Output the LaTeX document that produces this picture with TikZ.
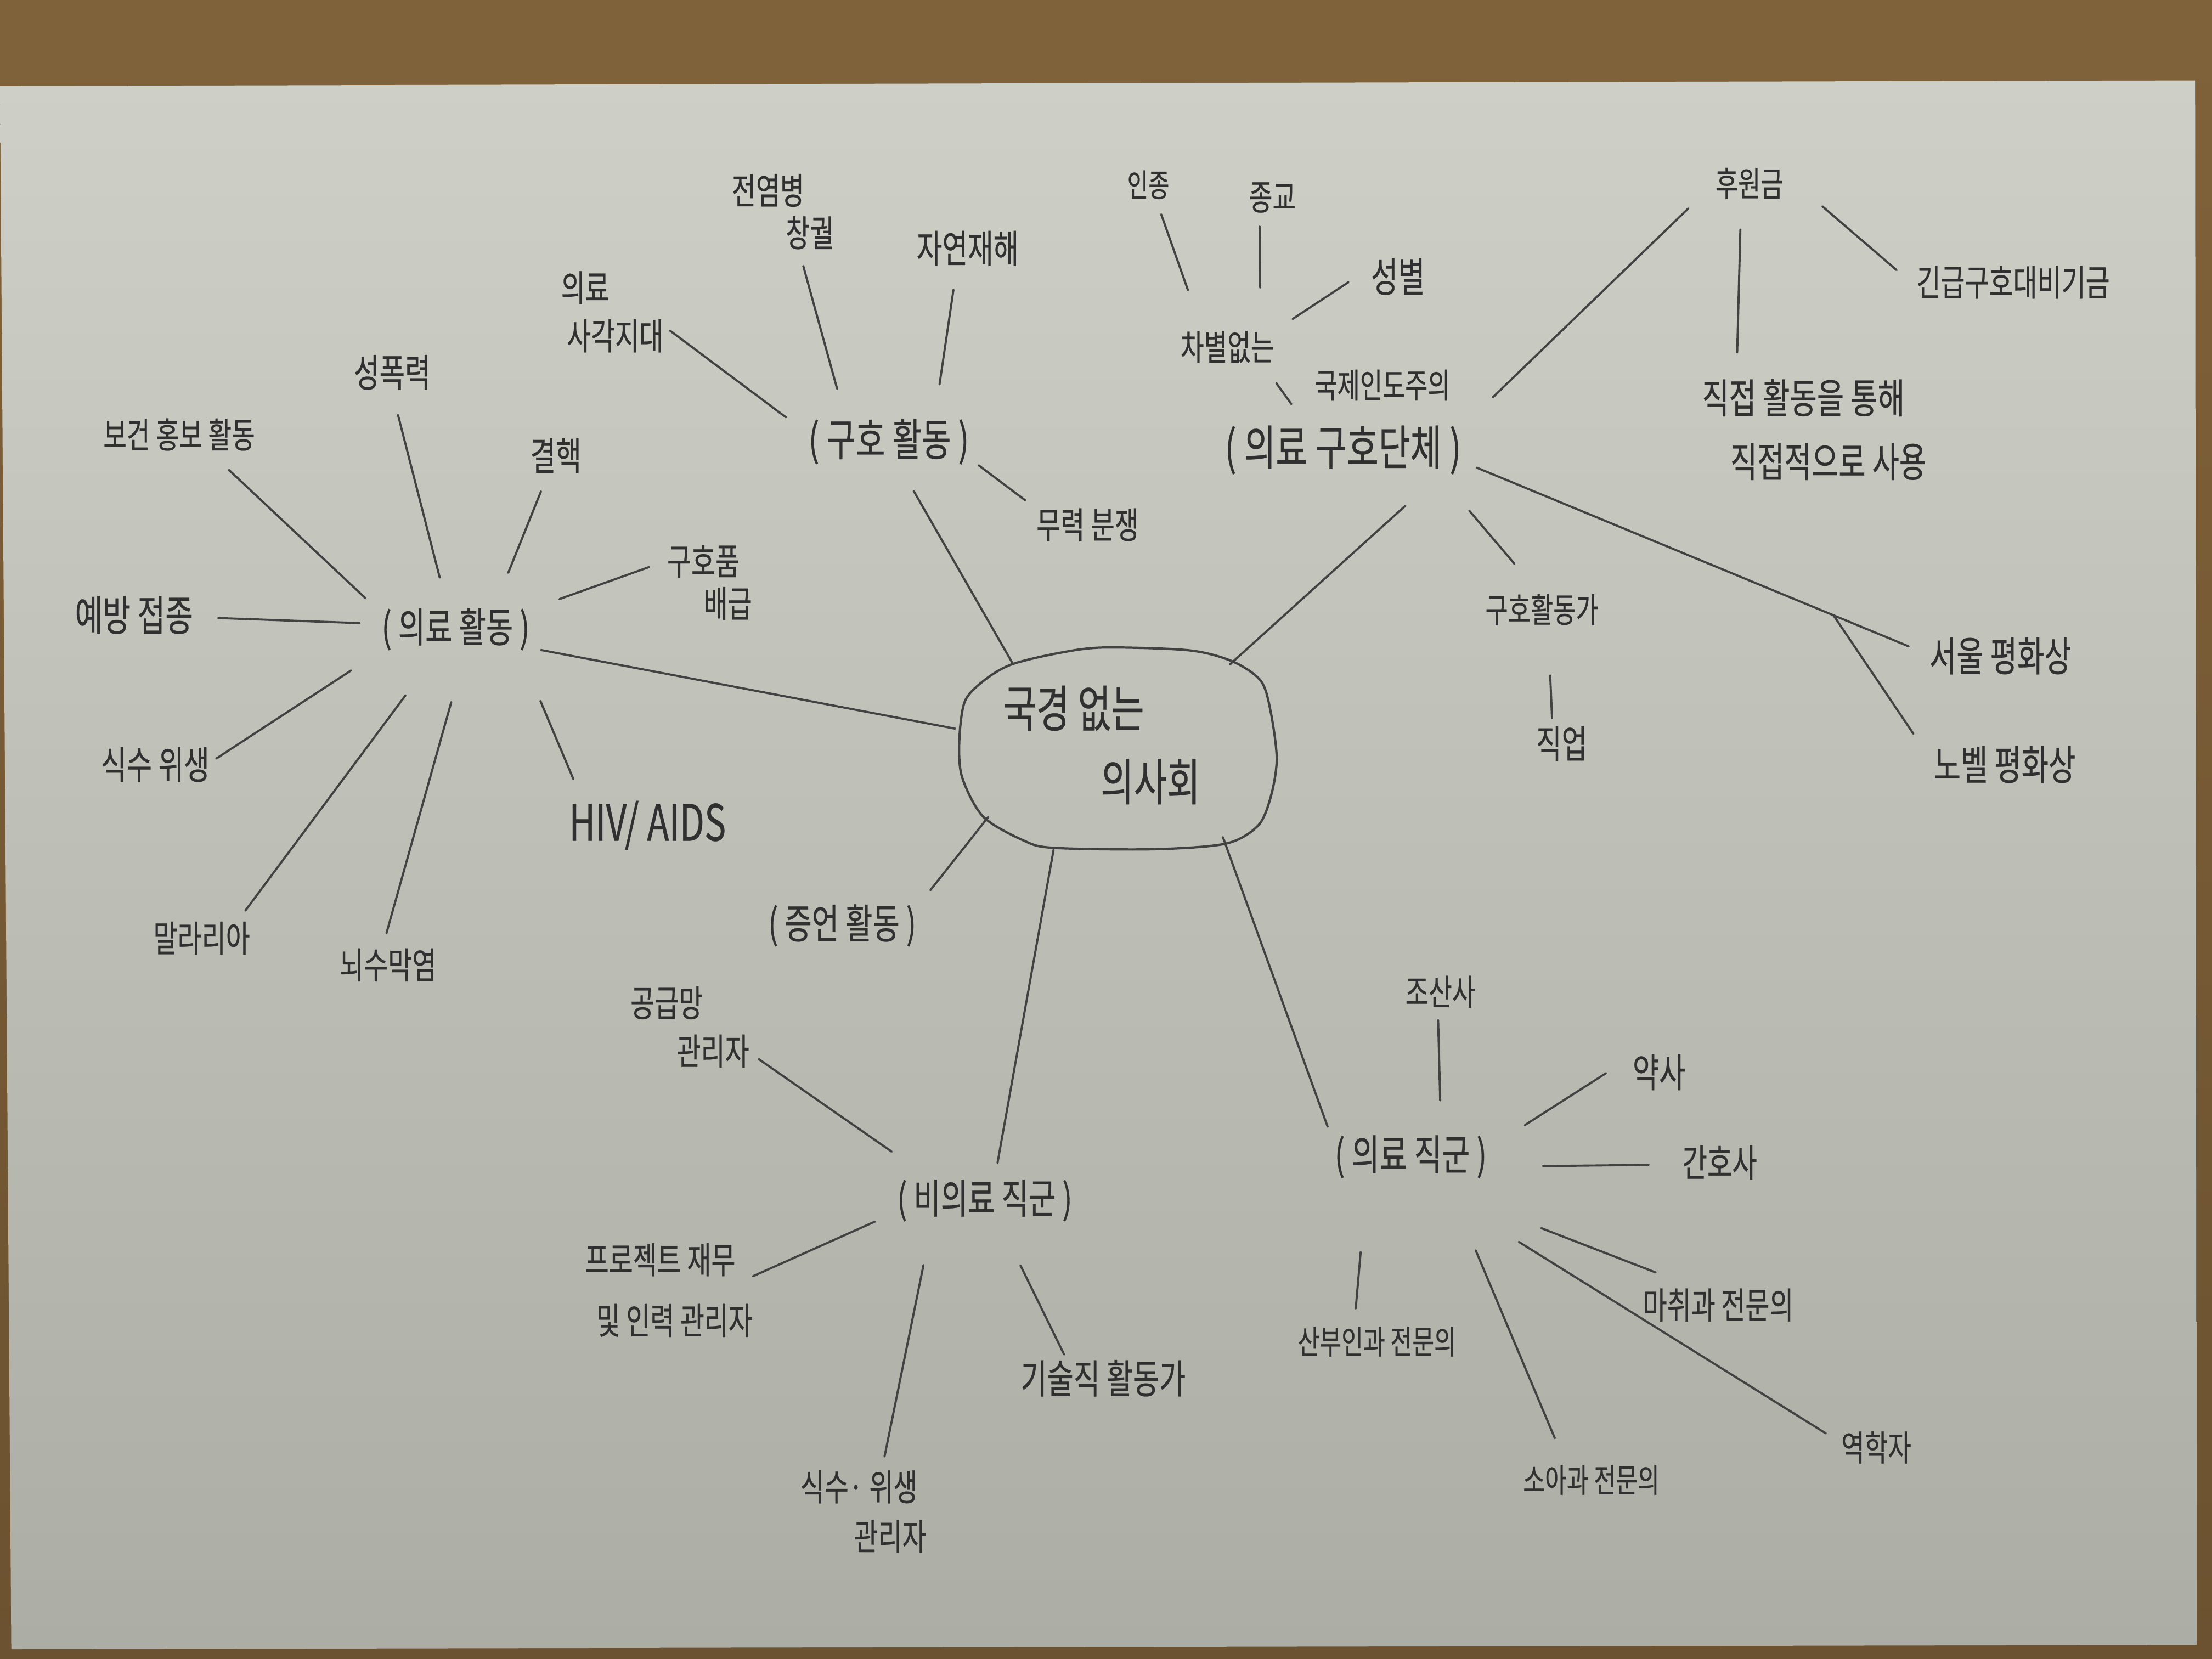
\documentclass[tikz,border=0pt]{standalone}
\usepackage{fontspec}
\setmainfont{Noto Sans CJK KR}[FakeStretch=0.72, FakeBold=0.4]
\usetikzlibrary{shapes.geometric}
\definecolor{wood}{RGB}{128,98,58}
\definecolor{woodd}{RGB}{108,82,48}
\definecolor{paperT}{RGB}{206,208,200}
\definecolor{paperB}{RGB}{172,174,165}
\definecolor{ink}{RGB}{48,48,48}
\definecolor{lead}{RGB}{66,66,66}
\tikzset{
  lbl/.style={inner sep=2pt, outer sep=0pt, text=ink},
  fs/.style={font=\fontsize{#1}{#1}\selectfont},
  hub/.style={ellipse, draw=none, inner sep=0pt, outer sep=0pt, minimum width=6.171cm, minimum height=4.011cm, text=ink},
  conn/.style={draw=lead, line width=1.1pt, line cap=round},
  sh/.style 2 args={shorten <=#1pt, shorten >=#2pt},
  bubble/.style={draw=lead, line width=1.2pt}
}
\begin{document}
\begin{tikzpicture}[x=0.025714cm, y=-0.025714cm]
\useasboundingbox (0,0) rectangle (1568,1176);
% table and paper
\shade[top color=wood, bottom color=woodd] (0,0) rectangle (1568,1176);
\shade[top color=paperT, bottom color=paperB] (0,61) -- (1556,57) -- (1557,1166) -- (8,1169) -- cycle;

% central bubble
\draw[bubble] plot[smooth cycle] coordinates {(717,471) (750,463) (782,459) (843,461) (874,469) (894,483) (901,506) (905,538) (901,564) (892,585) (869,598) (817,602) (747,601) (726,596) (697,579) (682,551) (680,525) (684,497) (698,482)};
\node[hub] (ctr) at (795,531) {\makebox[0pt]{\fontsize{26}{38}\selectfont\begin{tabular}{@{}l@{}}국경 없는\\\hspace*{50.5pt}의사회\hspace*{20.5pt}\end{tabular}}};

% main categories
\node[lbl, fs=21.2] (A) at (323,446) {( 의료 활동 )};
\node[lbl, fs=23] (B) at (630,313) {( 구호 활동 )};
\node[lbl, fs=24.8] (C) at (952,319) {( 의료 구호단체 )};
\node[lbl, fs=21.2] (D) at (597,656) {( 증언 활동 )};
\node[lbl, fs=21.2] (E) at (698,851) {( 비의료 직군 )};
\node[lbl, fs=21.8] (F) at (1000,820) {( 의료 직군 )};

% medical activities
\node[lbl, fs=18.3] (bogeon) at (127,308) {보건 홍보 활동};
\node[lbl, fs=20] (sexv) at (278,264) {성폭력};
\node[lbl, fs=20] (tb) at (394,323) {결핵};
\node[lbl, align=left, font=\fontsize{18.9}{22}\selectfont] (relief) at (503,413) {구호품\\\hspace*{19pt}배급};
\node[lbl, fs=21.8] (vacc) at (95,436) {예방 접종};
\node[lbl, fs=20] (water) at (110,542) {식수 위생};
\node[lbl, fs=18.9] (malaria) at (143,665) {말라리아};
\node[lbl, fs=18.9] (mening) at (275,684) {뇌수막염};
\node[lbl, fs=26] (hiv) at (459,585) {HIV/ AIDS};

% rescue activities
\node[lbl, align=left, font=\fontsize{18.9}{25}\selectfont] (blind) at (434,221) {의료\\\hspace*{3pt}사각지대};
\node[lbl, align=left, font=\fontsize{18.9}{22}\selectfont] (epid) at (555,150) {전염병\\\hspace*{28pt}창궐};
\node[lbl, fs=20] (disaster) at (686,176) {자연재해};
\node[lbl, fs=18.9] (conflict) at (771,372) {무력 분쟁};

% organisation
\node[lbl, fs=16.5] (race) at (814,131) {인종};
\node[lbl, fs=18.3] (relig) at (902,140) {종교};
\node[lbl, fs=21.2] (gender) at (991,196) {성별};
\node[lbl, fs=18.3] (nodisc) at (870,246) {차별없는};
\node[lbl, fs=17.7] (intl) at (980,273) {국제인도주의};
\node[lbl, fs=17.7] (donate) at (1240,130) {후원금};
\node[lbl, fs=18.9] (emerg) at (1427,200) {긴급구호대비기금};
\node[lbl, align=left, font=\fontsize{21.2}{33}\selectfont] (direct) at (1286,304.5) {직접 활동을 통해\\\hspace*{14.6pt}직접적으로 사용};
\node[lbl, fs=17.7] (worker) at (1093,432) {구호활동가};
\node[lbl, fs=20] (job) at (1107,527) {직업};
\node[lbl, fs=21.2] (seoul) at (1418,465) {서울 평화상};
\node[lbl, fs=21.2] (nobel) at (1421,542) {노벨 평화상};

% non-medical staff
\node[lbl, align=left, font=\fontsize{18.9}{25}\selectfont] (supply) at (489,728) {공급망\\\hspace*{24pt}관리자};
\node[lbl, align=left, font=\fontsize{18.9}{31.5}\selectfont] (proj) at (474,914.5) {프로젝트 재무\\\hspace*{5.9pt}및 인력 관리자};
\node[lbl, align=left, font=\fontsize{18.9}{25.6}\selectfont] (washm) at (612,1071.5) {식수· 위생\\\hspace*{27.8pt}관리자};
\node[lbl, fs=20.7] (tech) at (782,977) {기술직 활동가};

% medical staff
\node[lbl, fs=18.3] (midwife) at (1021,703) {조산사};
\node[lbl, fs=20.7] (pharm) at (1176,760) {약사};
\node[lbl, fs=19.5] (nurse) at (1219,824) {간호사};
\node[lbl, fs=17.1] (obgyn) at (976,951) {산부인과 전문의};
\node[lbl, fs=18.9] (anest) at (1218,925) {마취과 전문의};
\node[lbl, fs=17.1] (pedia) at (1128,1049) {소아과 전문의};
\node[lbl, fs=18.3] (epi) at (1330,1026) {역학자};

% hub connectors
\draw[conn, sh={0}{3.9}] (ctr.173.3) -- (A.-14.6);
\draw[conn, sh={0}{13.5}] (ctr.142.4) -- (B.-66.5);
\draw[conn, sh={0}{21.1}] (ctr.38.1) -- (C.-17.1);
\draw[conn, sh={0}{8.6}] (ctr.-153.9) -- (D.16.4);
\draw[conn, sh={0}{6.7}] (ctr.-124.6) -- (E.67.1);
\draw[conn, sh={0}{4.7}] (ctr.-41.8) -- (F.165.1);

% medical activities connectors
\draw[conn, sh={8.6}{11.7}] (A.166.1) -- (bogeon.-31.4);
\draw[conn, sh={14.3}{11.3}] (A.110) -- (sexv.-89);
\draw[conn, sh={17.6}{8.0}] (A.32) -- (tb.-113.3);
\draw[conn, sh={14.3}{7.8}] (A.15.4) -- (relief.156.2);
\draw[conn, sh={9.5}{11}] (A.176.4) -- (vacc.-2.9);
\draw[conn, sh={16.5}{1.8}] (A.197.7) -- (water.4.7);
\draw[conn, sh={26.6}{4.6}] (A.-128.7) -- (malaria.28.2);
\draw[conn, sh={25.8}{6.1}] (A.-70.3) -- (mening.103.4);
\draw[conn, sh={26.3}{10.2}] (A.-21.8) -- (hiv.157.9);

% rescue connectors
\draw[conn, sh={12.1}{1.8}] (B.173.7) -- (blind.-17.9);
\draw[conn, sh={14}{6.9}] (B.149.8) -- (epid.-68.2);
\draw[conn, sh={16}{10.5}] (B.30.1) -- (disaster.-118.3);
\draw[conn, sh={3.7}{4.7}] (B.-13.1) -- (conflict.161.6);

% organisation connectors
\draw[conn, sh={11.3}{10.4}] (C.144.7) -- (nodisc.-28.4);
\draw[conn, sh={20.3}{6.2}] (nodisc.143.4) -- (race.-64.9);
\draw[conn, sh={20.5}{5.1}] (nodisc.31.3) -- (relig.-124.1);
\draw[conn, sh={9.1}{11.6}] (nodisc.20) -- (gender.168);
\draw[conn, sh={19.8}{16.6}] (C.12.3) -- (donate.184.6);
\draw[conn, sh={13.9}{11.7}] (donate.-113.2) -- (direct.145.2);
\draw[conn, sh={24.1}{11}] (donate.11.9) -- (emerg.181.7);
\draw[conn, sh={21.9}{17.8}] (C.-16.5) -- (worker.105.5);
\draw[conn, sh={24.1}{2.2}] (worker.-72.9) -- (job.114);
\draw[conn, sh={6.4}{9.5}] (C.-6.6) -- coordinate[pos=0.8] (fork) (seoul.178.2);
\draw[conn, sh={0}{15.2}] (fork) -- (nobel.175);

% non-medical staff connectors
\draw[conn, sh={21.9}{3.6}] (E.157.4) -- (supply.-24.2);
\draw[conn, sh={10.5}{-2}] (E.188.4) -- (proj.10.7);
\draw[conn, sh={21.1}{5.3}] (E.205.6) -- (washm.67.4);
\draw[conn, sh={23.1}{1}] (E.-57.6) -- (tech.150.5);

% medical staff connectors
\draw[conn, sh={16.1}{4.4}] (F.40.7) -- (midwife.-97.9);
\draw[conn, sh={21.1}{14}] (F.7.9) -- (pharm.156);
\draw[conn, sh={27.1}{15.4}] (F.-7.4) -- (nurse.183);
\draw[conn, sh={36.3}{7.4}] (F.210.9) -- (obgyn.140.2);
\draw[conn, sh={66}{17.4}] (F.-65.1) -- (anest.147);
\draw[conn, sh={38.4}{12.8}] (F.-35.3) -- (pedia.145.5);
\draw[conn, sh={58.5}{7}] (F.-64.8) -- (epi.170.7);
\end{tikzpicture}
\end{document}
